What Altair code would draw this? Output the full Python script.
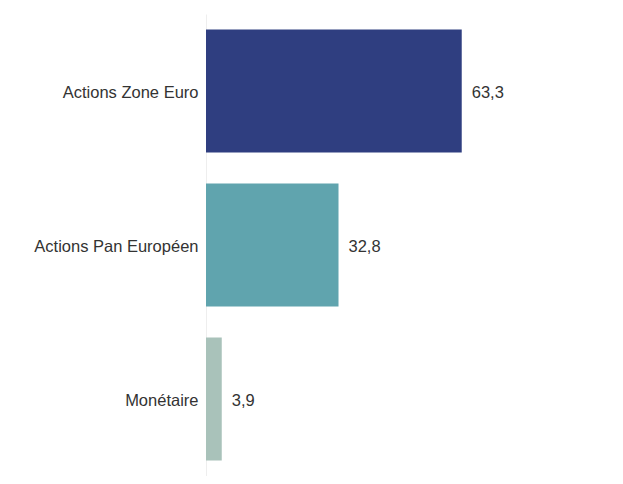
import altair as alt
import pandas as pd

categories = ["Actions Zone Euro", "Actions Pan Européen", "Monétaire"]
values = [63.3, 32.8, 3.9]
colors = ["#2f3e80", "#60a4ae", "#a9c2ba"]

df = pd.DataFrame({
    "cat": categories,
    "val": values,
    "label": [f"{v:.1f}".replace(".", ",") for v in values],
})

y = alt.Y("cat:N", sort=categories, title=None,
          scale=alt.Scale(paddingInner=0.2, paddingOuter=0.1),
          axis=alt.Axis(labelFont="Liberation Sans", labelFontSize=16.5,
                        labelColor="#333333", labelPadding=8, ticks=False,
                        labelOffset=2,
                        domainColor="#eeeeee", domainWidth=1, labelLimit=300))
x = alt.X("val:Q", title=None, scale=alt.Scale(domain=[0, 100]), axis=None)

bars = alt.Chart(df).mark_bar().encode(
    x=x, y=y,
    color=alt.Color("cat:N", scale=alt.Scale(domain=categories, range=colors), legend=None),
)
text = alt.Chart(df).mark_text(align="left", baseline="middle", dx=10, dy=2,
                               font="Liberation Sans", fontSize=16.5, color="#333333").encode(
    x=x, y=y, text="label:N")

chart = (bars + text).properties(
    width=404, height=462,
    padding={"left": 198, "top": 6, "right": 5, "bottom": 0},
    autosize=alt.AutoSizeParams(type="none"),
    background="white",
).configure_view(stroke=None)

chart.save("out.html", embed_options={"renderer": "svg", "actions": False})
